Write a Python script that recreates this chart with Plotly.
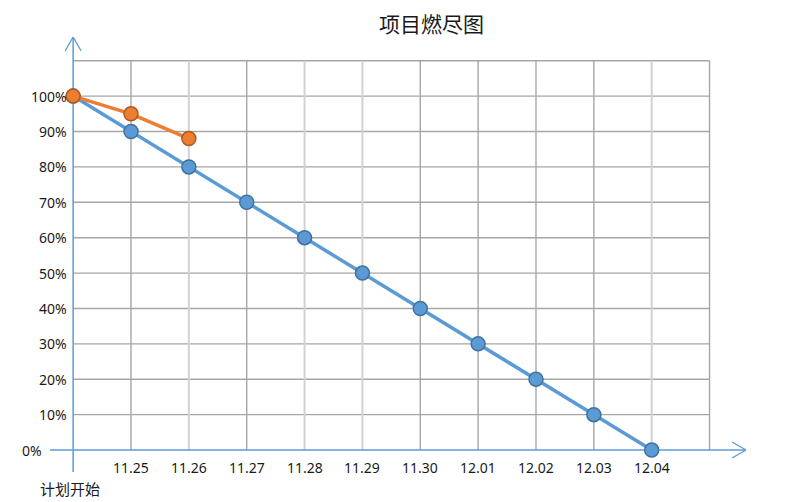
import plotly.graph_objects as go

# ---- data ----
x_labels = ["计划开始", "11.25", "11.26", "11.27", "11.28", "11.29", "11.30",
            "12.01", "12.02", "12.03", "12.04"]
planned = [100, 90, 80, 70, 60, 50, 40, 30, 20, 10, 0]
actual = [100, 95, 88]
y_ticks = [0, 10, 20, 30, 40, 50, 60, 70, 80, 90, 100]
y_tick_text = ["0%", "10%", "20%", "30%", "40%", "50%", "60%", "70%", "80%", "90%", "100%"]
title_text = "项目燃尽图"

# ---- style ----
BLUE = "#5B9BD5"
BLUE_EDGE = "#41719C"
ORANGE = "#ED7D31"
ORANGE_EDGE = "#AE5A21"
GRID = "#A6A6A6"
GRID_LIGHT = "#D2D2D2"
TEXT = "#1a1a1a"
LAT = "Noto Sans, Noto Sans CJK SC, sans-serif"
CJK = "Noto Sans CJK SC, sans-serif"

W, H = 797, 494  # page body has an 8px margin

n = len(x_labels)
xs = list(range(n))
x_min, x_max = -0.4, 11.63
y_min, y_max = -6.2, 116.7
grid_top = 110
grid_right = n  # one extra column
light_cols = {2, 4, 5, 10}

fig = go.Figure()

shapes = []
# horizontal gridlines
for v in y_ticks[1:] + [grid_top]:
    shapes.append(dict(type="line", xref="x", yref="y", x0=0, x1=grid_right, y0=v, y1=v,
                       line=dict(color=GRID, width=1.4), layer="below"))
# vertical gridlines
for i in range(1, grid_right + 1):
    light = i in light_cols
    shapes.append(dict(type="line", xref="x", yref="y", x0=i, x1=i, y0=0, y1=grid_top,
                       line=dict(color=GRID_LIGHT if light else GRID, width=2 if light else 1.4),
                       layer="below"))
# axes with arrows
shapes.append(dict(type="line", xref="x", yref="y", x0=x_min, x1=x_max, y0=0, y1=0,
                   line=dict(color=BLUE, width=1.5), layer="below"))
shapes.append(dict(type="line", xref="x", yref="y", x0=0, x1=0, y0=y_min, y1=y_max,
                   line=dict(color=BLUE, width=1.5), layer="below"))
ax_dx = 14 / 57.86
ax_dy = 8 / 3.539
for s in (1, -1):
    shapes.append(dict(type="line", xref="x", yref="y", x0=x_max, y0=0,
                       x1=x_max - ax_dx, y1=s * ax_dy,
                       line=dict(color=BLUE, width=1.3), layer="below"))
    shapes.append(dict(type="line", xref="x", yref="y", x0=0, y0=y_max,
                       x1=s * 8 / 57.86, y1=y_max - 14 / 3.539,
                       line=dict(color=BLUE, width=1.3), layer="below"))

fig.add_trace(go.Scatter(
    x=xs, y=planned, mode="lines+markers",
    line=dict(color=BLUE, width=3.5),
    marker=dict(size=14, color=BLUE, line=dict(color=BLUE_EDGE, width=1.5)),
    hoverinfo="skip", showlegend=False))
fig.add_trace(go.Scatter(
    x=xs[:len(actual)], y=actual, mode="lines+markers",
    line=dict(color=ORANGE, width=3.5),
    marker=dict(size=14, color=ORANGE, line=dict(color=ORANGE_EDGE, width=1.5)),
    hoverinfo="skip", showlegend=False))

annotations = []
for v, t in zip(y_ticks, y_tick_text):
    annotations.append(dict(x=0, y=v, xref="x", yref="y", text=t, showarrow=False,
                            xanchor="right", yanchor="middle",
                            xshift=-29 if v == 0 else -4,
                            font=dict(family=LAT, size=14, color=TEXT)))
for i, t in enumerate(x_labels):
    if i == 0:
        annotations.append(dict(x=i, y=0, xref="x", yref="y", text=t, showarrow=False,
                                xanchor="center", yanchor="middle", yshift=-38, xshift=-3,
                                font=dict(family=CJK, size=15, color=TEXT)))
    else:
        annotations.append(dict(x=i, y=0, xref="x", yref="y", text=t, showarrow=False,
                                xanchor="center", yanchor="middle", yshift=-17,
                                font=dict(family=LAT, size=14, color=TEXT)))

# title as a paper annotation so it sits fully inside the page
annotations.append(dict(x=(423 - 42) / 696, y=1 + (29 - 15) / 435, xref="paper", yref="paper",
                        text=title_text, showarrow=False, xanchor="center", yanchor="middle",
                        font=dict(family=CJK, size=21, color=TEXT)))

fig.update_layout(
    width=W, height=H,
    margin=dict(l=42, r=59, t=29, b=30),
    paper_bgcolor="white", plot_bgcolor="white",
    xaxis=dict(range=[x_min, x_max], visible=False, fixedrange=True),
    yaxis=dict(range=[y_min, y_max], visible=False, fixedrange=True),
    shapes=shapes, annotations=annotations,
)

fig.write_html("out.html")
